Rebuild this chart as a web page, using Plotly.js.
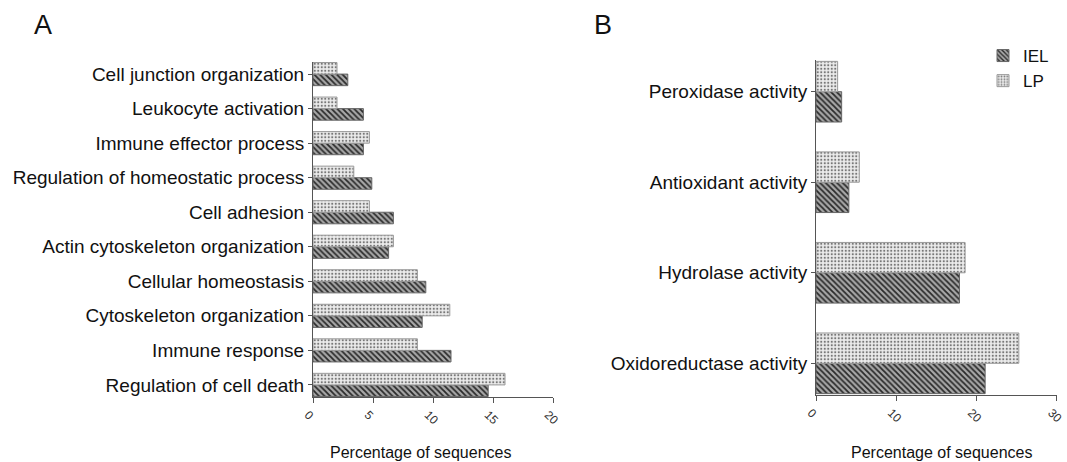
<!DOCTYPE html>
<html>
<head>
<meta charset="utf-8">
<script src="https://cdn.plot.ly/plotly-3.0.1.min.js"></script>
<style>html,body{margin:0;padding:0;background:#fff;}#chart{width:1067px;height:462px;}</style>
</head>
<body>
<div id="chart"></div>
<script>
const catsA = ["Regulation of cell death","Immune response","Cytoskeleton organization","Cellular homeostasis","Actin cytoskeleton organization","Cell adhesion","Regulation of homeostatic process","Immune effector process","Leukocyte activation","Cell junction organization"];
const ielA = [14.6, 11.5, 9.1, 9.4, 6.3, 6.7, 4.9, 4.2, 4.2, 2.9];
const lpA  = [16.0, 8.7, 11.4, 8.7, 6.7, 4.7, 3.4, 4.7, 2.0, 2.0];

const catsB = ["Oxidoreductase activity","Hydrolase activity","Antioxidant activity","Peroxidase activity"];
const ielB = [21.1, 17.9, 4.1, 3.2];
const lpB  = [25.3, 18.6, 5.4, 2.7];

const ticksA = [0, 5, 10, 15, 20];
const ticksB = [0, 10, 20, 30];
const xTitle = "Percentage of sequences";

const font = "Liberation Sans, Arial, sans-serif";
const ielMarker = {color:'#8a8a8a', line:{color:'#666', width:1},
  pattern:{shape:'\\', fgcolor:'#2a2a2a', bgcolor:'#a8a8a8', size:4, solidity:0.45, fillmode:'replace'}};
const lpMarker = {color:'#e0e0e0', line:{color:'#999', width:1},
  pattern:{shape:'.', fgcolor:'#777', bgcolor:'#ececec', size:3.5, solidity:0.3, fillmode:'replace'}};

const traces = [
  {type:'bar', orientation:'h', name:'IEL', y:catsA, x:ielA, xaxis:'x', yaxis:'y', marker:ielMarker, showlegend:false, legendgroup:'IEL'},
  {type:'bar', orientation:'h', name:'LP', y:catsA, x:lpA, xaxis:'x', yaxis:'y', marker:lpMarker, showlegend:false, legendgroup:'LP'},
  {type:'bar', orientation:'h', name:'IEL', y:catsB, x:ielB, xaxis:'x2', yaxis:'y2', marker:ielMarker, legendgroup:'IEL'},
  {type:'bar', orientation:'h', name:'LP', y:catsB, x:lpB, xaxis:'x2', yaxis:'y2', marker:lpMarker, legendgroup:'LP'}
];

const axX = {
  showgrid:false, zeroline:false, showline:true, linecolor:'#555', linewidth:1,
  ticks:'outside', ticklen:5, tickcolor:'#555', tickangle:45, ticklabeloverflow:'allow', ticklabelshift:-5,
  tickfont:{family:font, size:12, color:'#333'}, fixedrange:true
};
const axY = {
  showgrid:false, zeroline:false, showline:true, linecolor:'#555', linewidth:1,
  ticks:'outside', ticklen:4, tickcolor:'#555',
  tickfont:{family:font, size:19, color:'#111'}, ticklabelstandoff:0, fixedrange:true
};

const layout = {
  width:1067, height:462,
  margin:{l:0, r:0, t:0, b:0},
  paper_bgcolor:'#fff', plot_bgcolor:'#fff',
  barmode:'group', bargap:0.33, bargroupgap:0,
  font:{family:font, color:'#111'},
  xaxis: Object.assign({}, axX, {domain:[313/1067, 553/1067], range:[0,20], tickvals:ticksA, anchor:'y'}),
  yaxis: Object.assign({}, axY, {domain:[1-397/462, 1-62/462], range:[-0.35, 9.35], anchor:'x', type:'category', categoryorder:'array', categoryarray:catsA}),
  xaxis2: Object.assign({}, axX, {domain:[816/1067, 1056.5/1067], range:[0,30], tickvals:ticksB, anchor:'y2'}),
  yaxis2: Object.assign({}, axY, {domain:[1-395/462, 1-60/462], range:[-0.35, 3.35], anchor:'x2', type:'category', categoryorder:'array', categoryarray:catsB}),
  legend:{x:983/1067, y:1-38/462, xanchor:'left', yanchor:'top', traceorder:'normal',
    font:{family:font, size:17, color:'#111'}, itemwidth:30, tracegroupgap:6, bgcolor:'rgba(0,0,0,0)'},
  annotations:[
    {text:'A', x:32/1067, y:1-8/462, xref:'paper', yref:'paper', xanchor:'left', yanchor:'top', showarrow:false, font:{family:font, size:27, color:'#111'}},
    {text:'B', x:592/1067, y:1-8/462, xref:'paper', yref:'paper', xanchor:'left', yanchor:'top', showarrow:false, font:{family:font, size:27, color:'#111'}},
    {text:xTitle, x:420/1067, y:1-452/462, xref:'paper', yref:'paper', xanchor:'center', yanchor:'middle', showarrow:false, font:{family:font, size:16, color:'#111'}},
    {text:xTitle, x:941/1067, y:1-452/462, xref:'paper', yref:'paper', xanchor:'center', yanchor:'middle', showarrow:false, font:{family:font, size:16, color:'#111'}}
  ]
};

Plotly.newPlot('chart', traces, layout, {displayModeBar:false, staticPlot:true});
</script>
</body>
</html>
